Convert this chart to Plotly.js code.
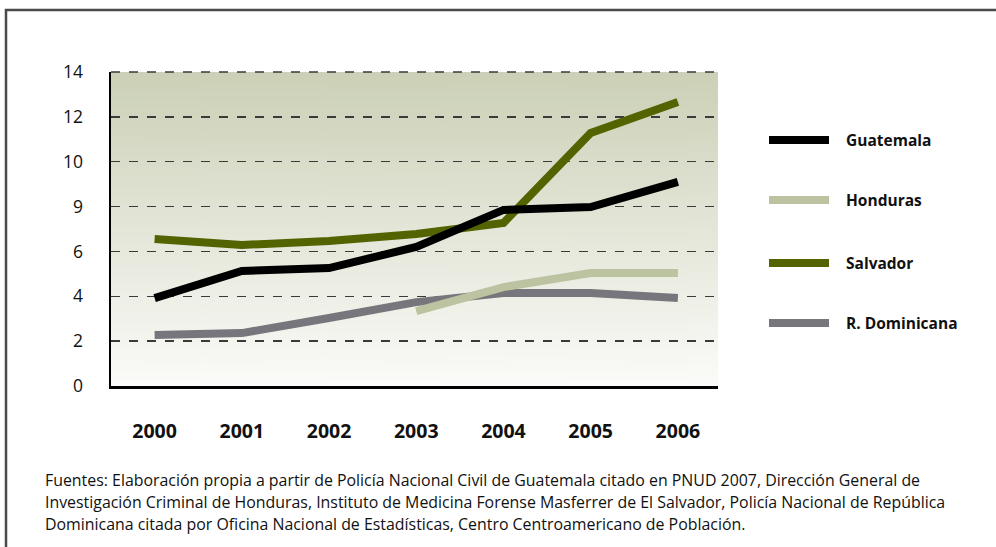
<!DOCTYPE html>
<html>
<head>
<meta charset="utf-8">
<script src="https://cdn.plot.ly/plotly-3.0.1.min.js"></script>
<style>html,body{margin:0;padding:0;background:#fff;}#chart{width:996px;height:547px;}</style>
</head>
<body>
<div id="chart"></div>
<script>
// ---- data ----
const years = [2000, 2001, 2002, 2003, 2004, 2005, 2006];
const guatemala = [3.92, 5.13, 5.26, 6.2, 7.85, 7.98, 9.1];
const honduras = [null, null, null, 3.34, 4.41, 5.04, 5.04];
const salvador = [6.55, 6.29, 6.46, 6.78, 7.27, 11.28, 12.66];
const dominicana = [2.27, 2.36, 3.03, 3.74, 4.15, 4.15, 3.92];
const seriesNames = ['Guatemala', 'Honduras', 'Salvador', 'R. Dominicana'];
const yTickVals = [0, 2, 4, 6, 8, 10, 12, 14];
const yTickText = ['0', '2', '4', '6', '9', '10', '12', '14'];
const footnoteLines = [
  'Fuentes: Elaboración propia a partir de Policía Nacional Civil de Guatemala citado en PNUD 2007, Dirección General de',
  'Investigación Criminal de Honduras, Instituto de Medicina Forense Masferrer de El Salvador, Policía Nacional de República',
  'Dominicana citada por Oficina Nacional de Estadísticas, Centro Centroamericano de Población.'
];

// ---- layout geometry ----
const W = 996, H = 547;
const L = 111, R = 718, T = 72, B = 386;
const px = x => (x - L) / (R - L);
const py = y => (B - y) / (B - T);

const colors = {
  'Guatemala': '#000000',
  'Honduras': '#bcc3a0',
  'Salvador': '#536300',
  'R. Dominicana': '#76767c'
};

// gradient background image
const cv = document.createElement('canvas');
cv.width = 10; cv.height = 300;
const ctx = cv.getContext('2d');
const g = ctx.createLinearGradient(0, 0, 0, 300);
g.addColorStop(0, '#cbd0b6');
g.addColorStop(0.5, '#e4e6d8');
g.addColorStop(1, '#fbfbf9');
ctx.fillStyle = g;
ctx.fillRect(0, 0, 10, 300);
const bgURL = cv.toDataURL('image/png');

function trace(name, ys) {
  return {
    x: years, y: ys, name: name, type: 'scatter', mode: 'lines',
    line: {color: colors[name], width: 8},
    connectgaps: false, hoverinfo: 'x+y+name'
  };
}
const data = [
  trace('R. Dominicana', dominicana),
  trace('Honduras', honduras),
  trace('Salvador', salvador),
  trace('Guatemala', guatemala)
];

const shapes = [];
const annotations = [];
// outer frame
shapes.push({
  type: 'path', xref: 'paper', yref: 'paper',
  path: `M ${px(6)} ${py(560)} L ${px(6)} ${py(10)} L ${px(1000)} ${py(10)}`,
  line: {color: '#4a4a4a', width: 2.5}, layer: 'above'
});
// top gridline (at the range edge)
shapes.push({
  type: 'line', xref: 'paper', yref: 'paper', x0: 0, x1: 1, y0: 1, y1: 1,
  line: {color: '#3a3a3a', width: 1.5, dash: 'dash'}, layer: 'below'
});
// legend
const legY = [140, 200, 263, 323];
seriesNames.forEach((n, i) => {
  shapes.push({
    type: 'line', xref: 'paper', yref: 'paper',
    x0: px(769), x1: px(829), y0: py(legY[i]), y1: py(legY[i]),
    line: {color: colors[n], width: 8}
  });
  annotations.push({
    xref: 'paper', yref: 'paper', x: px(844), y: py(legY[i]),
    xanchor: 'left', yanchor: 'middle', showarrow: false,
    text: '<b>' + n + '</b>',
    font: {family: 'Open Sans, sans-serif', size: 15.5, color: '#111'}
  });
});
// footnote
const footY = [480, 502, 524];
footnoteLines.forEach((t, i) => {
  annotations.push({
    xref: 'paper', yref: 'paper', x: px(43), y: py(footY[i]),
    xanchor: 'left', yanchor: 'middle', showarrow: false, align: 'left',
    text: t,
    font: {family: 'Open Sans, sans-serif', size: 15.9, color: '#111'}
  });
});

const layout = {
  width: W, height: H,
  margin: {l: L, r: W - R, t: T, b: H - B, pad: 0},
  paper_bgcolor: '#ffffff',
  plot_bgcolor: 'rgba(0,0,0,0)',
  showlegend: false,
  font: {family: 'Open Sans, sans-serif', color: '#111'},
  images: [{
    source: bgURL, xref: 'paper', yref: 'paper', x: 0, y: 1,
    sizex: 1, sizey: 1, sizing: 'stretch', layer: 'below',
    xanchor: 'left', yanchor: 'top'
  }],
  xaxis: {
    range: [1999.5, 2006.46],
    tickvals: years, ticktext: years.map(String),
    showgrid: false, zeroline: false,
    showline: true, linecolor: '#000', linewidth: 2.5,
    ticks: 'outside', ticklen: 26, tickcolor: 'rgba(0,0,0,0)',
    tickfont: {family: 'Open Sans, sans-serif', size: 19.5, color: '#111', weight: 'bold'},
    fixedrange: true
  },
  yaxis: {
    range: [0, 14],
    tickvals: yTickVals, ticktext: yTickText,
    showgrid: true, gridcolor: '#3a3a3a', gridwidth: 1.5, griddash: 'dash',
    zeroline: false,
    showline: true, linecolor: '#000', linewidth: 2.5,
    ticks: 'outside', ticklen: 22, tickcolor: 'rgba(0,0,0,0)',
    tickfont: {family: 'Open Sans, sans-serif', size: 17.5, color: '#111'},
    fixedrange: true
  },
  shapes: shapes,
  annotations: annotations
};

Plotly.newPlot('chart', data, layout, {displayModeBar: false, staticPlot: true});
</script>
</body>
</html>
